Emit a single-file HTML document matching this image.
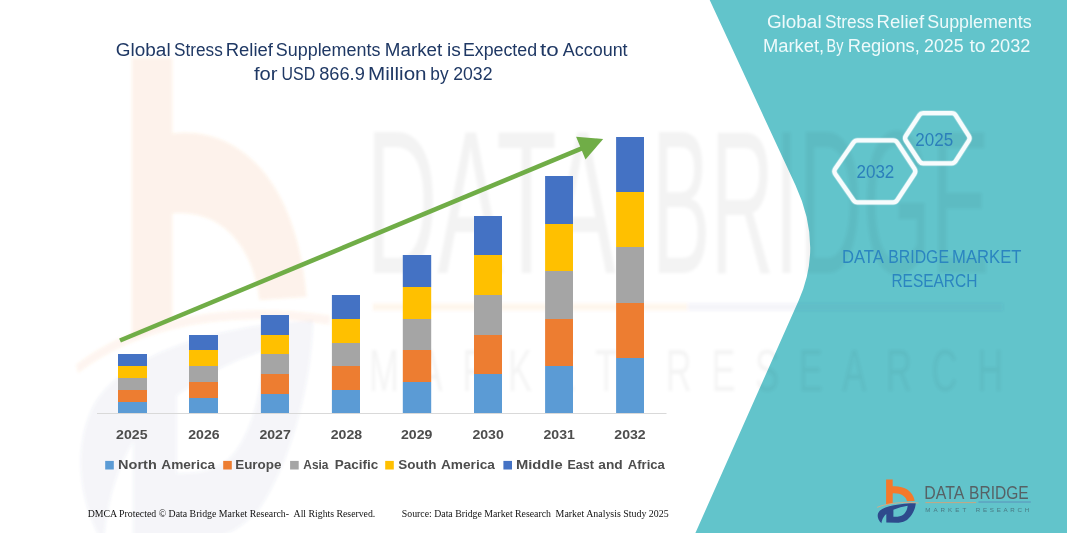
<!DOCTYPE html>
<html lang="en">
<head>
<meta charset="utf-8">
<title>Global Stress Relief Supplements Market</title>
<style>
  html, body { margin: 0; padding: 0; background: #ffffff; }
  body { width: 1067px; height: 533px; overflow: hidden; }
  svg { display: block; }
  .sans { font-family: "Liberation Sans", sans-serif; }
  .serif { font-family: "Liberation Serif", serif; }
</style>
</head>
<body>
<svg width="1067" height="533" viewBox="0 0 1067 533">
  <rect x="0" y="0" width="1067" height="533" fill="#ffffff"/>

  <!-- faint watermark (left, on white) -->
  <filter id="soft" x="-10%" y="-10%" width="120%" height="120%"><feGaussianBlur stdDeviation="1.6"/></filter>
  <g filter="url(#soft)"><g id="wm-left" transform="translate(132,58) scale(6.1,11.1) translate(-886.1,-479.4)">
    <path d="M886.1 479.4 L892.7 479.4 L892.7 486.2 C903 485.5 913 490 914.7 500.9 L907 501.2 C906 496.5 901 493 892.7 493.4 L892.7 503 L886.1 504.7 Z" fill="#ed7d31" fill-opacity="0.10"/>
    <path d="M915.8 503 C915.5 509 912 516 907 520 C903 522.5 899 522.8 897 522.8 L886.3 522.5 L886.3 514 C884 516 882 519 881.4 523.2 C877 519 876.5 514 880 510.5 C885 506 900 503.5 915.8 503 Z M893.4 509.8 C898 508 903 506.5 907.6 505.8 C907.5 510 905 514 902 515.5 C899 516.8 896 516.8 893.4 516.8 Z" fill="#2f5597" fill-opacity="0.055" fill-rule="evenodd"/>
    <path d="M877.1 507.4 C884 504.5 897 501.3 918.5 503" fill="none" stroke="#ed7d31" stroke-opacity="0.08" stroke-width="0.8"/>
  </g></g>

  <!-- teal panel -->
  <path id="panel" d="M709.7 0 L795.4 185 Q823.2 245.1 798.9 300 L695.4 533 L1067 533 L1067 0 Z" fill="#62c4cb"/>

  <!-- faint watermark wordmark -->
  <mask id="wmm" maskUnits="userSpaceOnUse" x="0" y="0" width="1067" height="533">
    <rect x="0" y="0" width="1067" height="533" fill="#ffffff"/>
    <path d="M709.7 0 L795.4 185 Q823.2 245.1 798.9 300 L695.4 533 L1067 533 L1067 0 Z" fill="#e2e2e2"/>
  </mask>
  <g mask="url(#wmm)"><g id="wm-text" class="sans" fill="#04222a" filter="url(#soft)">
    <text y="272.5" font-size="205" fill-opacity="0.047"><tspan x="365.9" textLength="244.2" lengthAdjust="spacingAndGlyphs">DATA</tspan> <tspan x="651.7" textLength="338.1" lengthAdjust="spacingAndGlyphs">BRIDGE</tspan></text>
    <text transform="translate(369,391) scale(0.6,1)" font-size="60" textLength="1057" lengthAdjust="spacing" fill-opacity="0.043">MARKET RESEARCH</text>
    <rect x="372.8" y="303.5" width="315" height="7" fill="#ed7d31" fill-opacity="0.07"/>
    <rect x="687.8" y="303.5" width="315" height="7" fill="#2f5597" fill-opacity="0.055"/>
  </g></g>

  <!-- chart title -->
  <g class="sans" fill="#1f3864" font-size="18">
    <text y="55.8"><tspan x="115.8" textLength="54.8" lengthAdjust="spacingAndGlyphs">Global</tspan> <tspan x="174.1" textLength="48.7" lengthAdjust="spacingAndGlyphs">Stress</tspan> <tspan x="225.7" textLength="47.2" lengthAdjust="spacingAndGlyphs">Relief</tspan> <tspan x="275.8" textLength="104.6" lengthAdjust="spacingAndGlyphs">Supplements</tspan> <tspan x="384.8" textLength="57.4" lengthAdjust="spacingAndGlyphs">Market</tspan> <tspan x="447.1" textLength="13.8" lengthAdjust="spacingAndGlyphs">is</tspan> <tspan x="462.9" textLength="74.2" lengthAdjust="spacingAndGlyphs">Expected</tspan> <tspan x="540.0" textLength="18.7" lengthAdjust="spacingAndGlyphs">to</tspan> <tspan x="562.8" textLength="64.8" lengthAdjust="spacingAndGlyphs">Account</tspan></text>
    <text y="79.9"><tspan x="254.0" textLength="23.5" lengthAdjust="spacingAndGlyphs">for</tspan> <tspan x="281.6" textLength="33.6" lengthAdjust="spacingAndGlyphs">USD</tspan> <tspan x="319.2" textLength="45.6" lengthAdjust="spacingAndGlyphs">866.9</tspan> <tspan x="368.1" textLength="58.5" lengthAdjust="spacingAndGlyphs">Million</tspan> <tspan x="430.3" textLength="18.3" lengthAdjust="spacingAndGlyphs">by</tspan> <tspan x="453.2" textLength="39.3" lengthAdjust="spacingAndGlyphs">2032</tspan></text>
  </g>

  <!-- axis -->
  <line x1="97" y1="413.5" x2="666.5" y2="413.5" stroke="#d9d9d9" stroke-width="1"/>

  <!-- bars -->
  <g id="bars">
    <!-- 2025 -->
    <rect x="118" y="402" width="29" height="11" fill="#5b9bd5"/>
    <rect x="118" y="390" width="29" height="12" fill="#ed7d31"/>
    <rect x="118" y="378" width="29" height="12" fill="#a5a5a5"/>
    <rect x="118" y="366" width="29" height="12" fill="#ffc000"/>
    <rect x="118" y="354" width="29" height="12" fill="#4472c4"/>
    <!-- 2026 -->
    <rect x="189" y="398" width="29" height="15" fill="#5b9bd5"/>
    <rect x="189" y="382" width="29" height="16" fill="#ed7d31"/>
    <rect x="189" y="366" width="29" height="16" fill="#a5a5a5"/>
    <rect x="189" y="350" width="29" height="16" fill="#ffc000"/>
    <rect x="189" y="335" width="29" height="15" fill="#4472c4"/>
    <!-- 2027 -->
    <rect x="260.9" y="394" width="28.1" height="19" fill="#5b9bd5"/>
    <rect x="260.9" y="374" width="28.1" height="20" fill="#ed7d31"/>
    <rect x="260.9" y="354" width="28.1" height="20" fill="#a5a5a5"/>
    <rect x="260.9" y="335" width="28.1" height="19" fill="#ffc000"/>
    <rect x="260.9" y="315" width="28.1" height="20" fill="#4472c4"/>
    <!-- 2028 -->
    <rect x="331.9" y="390" width="28.1" height="23" fill="#5b9bd5"/>
    <rect x="331.9" y="366" width="28.1" height="24" fill="#ed7d31"/>
    <rect x="331.9" y="343" width="28.1" height="23" fill="#a5a5a5"/>
    <rect x="331.9" y="319" width="28.1" height="24" fill="#ffc000"/>
    <rect x="331.9" y="295" width="28.1" height="24" fill="#4472c4"/>
    <!-- 2029 -->
    <rect x="402.8" y="382" width="28.4" height="31" fill="#5b9bd5"/>
    <rect x="402.8" y="350" width="28.4" height="32" fill="#ed7d31"/>
    <rect x="402.8" y="319" width="28.4" height="31" fill="#a5a5a5"/>
    <rect x="402.8" y="287" width="28.4" height="32" fill="#ffc000"/>
    <rect x="402.8" y="255" width="28.4" height="32" fill="#4472c4"/>
    <!-- 2030 -->
    <rect x="474" y="374" width="28" height="39" fill="#5b9bd5"/>
    <rect x="474" y="335" width="28" height="39" fill="#ed7d31"/>
    <rect x="474" y="295" width="28" height="40" fill="#a5a5a5"/>
    <rect x="474" y="255" width="28" height="40" fill="#ffc000"/>
    <rect x="474" y="216" width="28" height="39" fill="#4472c4"/>
    <!-- 2031 -->
    <rect x="545.1" y="366" width="27.9" height="47" fill="#5b9bd5"/>
    <rect x="545.1" y="319" width="27.9" height="47" fill="#ed7d31"/>
    <rect x="545.1" y="271" width="27.9" height="48" fill="#a5a5a5"/>
    <rect x="545.1" y="224" width="27.9" height="47" fill="#ffc000"/>
    <rect x="545.1" y="176" width="27.9" height="48" fill="#4472c4"/>
    <!-- 2032 -->
    <rect x="616.1" y="358" width="27.9" height="55" fill="#5b9bd5"/>
    <rect x="616.1" y="303" width="27.9" height="55" fill="#ed7d31"/>
    <rect x="616.1" y="247" width="27.9" height="56" fill="#a5a5a5"/>
    <rect x="616.1" y="192" width="27.9" height="55" fill="#ffc000"/>
    <rect x="616.1" y="137" width="27.9" height="55" fill="#4472c4"/>
  </g>

  <!-- green arrow -->
  <g id="arrow">
    <line x1="120" y1="340.5" x2="583" y2="147.9" stroke="#70ad47" stroke-width="4.6"/>
    <polygon points="603.2,138.9 576.1,136.8 585.5,159.6" fill="#70ad47"/>
  </g>

  <!-- year labels -->
  <g class="sans" font-weight="700" font-size="13.6" fill="#4d4d4d" text-anchor="middle">
    <text x="131.8" y="438.6" textLength="31.4" lengthAdjust="spacingAndGlyphs">2025</text>
    <text x="203.9" y="438.6" textLength="31.4" lengthAdjust="spacingAndGlyphs">2026</text>
    <text x="275.1" y="438.6" textLength="31.4" lengthAdjust="spacingAndGlyphs">2027</text>
    <text x="346.4" y="438.6" textLength="31.4" lengthAdjust="spacingAndGlyphs">2028</text>
    <text x="416.7" y="438.6" textLength="31.4" lengthAdjust="spacingAndGlyphs">2029</text>
    <text x="488.1" y="438.6" textLength="31.4" lengthAdjust="spacingAndGlyphs">2030</text>
    <text x="559.2" y="438.6" textLength="31.4" lengthAdjust="spacingAndGlyphs">2031</text>
    <text x="630" y="438.6" textLength="31.4" lengthAdjust="spacingAndGlyphs">2032</text>
  </g>

  <!-- legend -->
  <g id="legend">
    <rect x="105.2" y="460.9" width="8.6" height="8.6" fill="#5b9bd5"/>
    <rect x="223.2" y="460.9" width="8.6" height="8.6" fill="#ed7d31"/>
    <rect x="290.1" y="460.9" width="8.6" height="8.6" fill="#a5a5a5"/>
    <rect x="385.2" y="460.9" width="8.6" height="8.6" fill="#ffc000"/>
    <rect x="503.4" y="460.9" width="8.6" height="8.6" fill="#4472c4"/>
    <g class="sans" font-weight="700" font-size="13.6" fill="#4d4d4d">
      <text y="468.8"><tspan x="118.1" textLength="38.7" lengthAdjust="spacingAndGlyphs">North</tspan> <tspan x="161.3" textLength="53.8" lengthAdjust="spacingAndGlyphs">America</tspan></text>
      <text y="468.8"><tspan x="235.2" textLength="46.3" lengthAdjust="spacingAndGlyphs">Europe</tspan></text>
      <text y="468.8"><tspan x="303.3" textLength="25.1" lengthAdjust="spacingAndGlyphs">Asia</tspan> <tspan x="334.7" textLength="43.5" lengthAdjust="spacingAndGlyphs">Pacific</tspan></text>
      <text y="468.8"><tspan x="398.2" textLength="38.2" lengthAdjust="spacingAndGlyphs">South</tspan> <tspan x="441.0" textLength="53.9" lengthAdjust="spacingAndGlyphs">America</tspan></text>
      <text y="468.8"><tspan x="516.0" textLength="46.6" lengthAdjust="spacingAndGlyphs">Middle</tspan> <tspan x="567.5" textLength="26.3" lengthAdjust="spacingAndGlyphs">East</tspan> <tspan x="598.3" textLength="24.4" lengthAdjust="spacingAndGlyphs">and</tspan> <tspan x="627.8" textLength="37.1" lengthAdjust="spacingAndGlyphs">Africa</tspan></text>
    </g>
  </g>

  <!-- footnotes -->
  <g class="serif" font-size="10" fill="#111111">
    <text y="517.4"><tspan x="87.7" textLength="201.3" lengthAdjust="spacingAndGlyphs">DMCA Protected © Data Bridge Market Research-</tspan> <tspan x="293.6" textLength="81.7" lengthAdjust="spacingAndGlyphs">All Rights Reserved.</tspan></text>
    <text y="517.4"><tspan x="401.8" textLength="149.2" lengthAdjust="spacingAndGlyphs">Source: Data Bridge Market Research</tspan> <tspan x="555.6" textLength="113.1" lengthAdjust="spacingAndGlyphs">Market Analysis Study 2025</tspan></text>
  </g>

  <!-- right panel title -->
  <g class="sans" fill="#eefafb" font-size="18">
    <text y="27.9"><tspan x="766.9" textLength="54.7" lengthAdjust="spacingAndGlyphs">Global</tspan> <tspan x="825.0" textLength="48.9" lengthAdjust="spacingAndGlyphs">Stress</tspan> <tspan x="876.5" textLength="47.6" lengthAdjust="spacingAndGlyphs">Relief</tspan> <tspan x="927.3" textLength="104.3" lengthAdjust="spacingAndGlyphs">Supplements</tspan></text>
    <text y="51.8"><tspan x="763.0" textLength="61.1" lengthAdjust="spacingAndGlyphs">Market,</tspan> <tspan x="826.6" textLength="16.8" lengthAdjust="spacingAndGlyphs">By</tspan> <tspan x="847.8" textLength="72.0" lengthAdjust="spacingAndGlyphs">Regions,</tspan> <tspan x="924.0" textLength="39.6" lengthAdjust="spacingAndGlyphs">2025</tspan> <tspan x="969.4" textLength="16.1" lengthAdjust="spacingAndGlyphs">to</tspan> <tspan x="990.0" textLength="40.4" lengthAdjust="spacingAndGlyphs">2032</tspan></text>
  </g>

  <!-- hexagons -->
  <g fill="none" stroke="#ffffff" stroke-opacity="0.3" stroke-width="5.8" stroke-linejoin="round">
    <path d="M835.4 174.2 A5 5 0 0 1 835.4 168.4 L853.5 142.4 A5 5 0 0 1 857.6 140.3 L893.1 140.3 A5 5 0 0 1 897.3 142.6 L914.4 168.6 A5 5 0 0 1 914.4 174.0 L897.3 200.0 A5 5 0 0 1 893.1 202.3 L857.6 202.3 A5 5 0 0 1 853.5 200.2 Z"/>
    <path d="M905.9 140.7 A4.5 4.5 0 0 1 905.9 135.7 L919.4 115.1 A4.5 4.5 0 0 1 923.1 113.1 L951.8 113.1 A4.5 4.5 0 0 1 955.6 115.2 L968.8 135.8 A4.5 4.5 0 0 1 968.8 140.6 L955.6 161.2 A4.5 4.5 0 0 1 951.8 163.3 L923.1 163.3 A4.5 4.5 0 0 1 919.4 161.3 Z"/>
  </g>
  <g fill="none" stroke="#f7fcfd" stroke-width="4.3" stroke-linejoin="round">
    <path d="M835.4 174.2 A5 5 0 0 1 835.4 168.4 L853.5 142.4 A5 5 0 0 1 857.6 140.3 L893.1 140.3 A5 5 0 0 1 897.3 142.6 L914.4 168.6 A5 5 0 0 1 914.4 174.0 L897.3 200.0 A5 5 0 0 1 893.1 202.3 L857.6 202.3 A5 5 0 0 1 853.5 200.2 Z"/>
    <path d="M905.9 140.7 A4.5 4.5 0 0 1 905.9 135.7 L919.4 115.1 A4.5 4.5 0 0 1 923.1 113.1 L951.8 113.1 A4.5 4.5 0 0 1 955.6 115.2 L968.8 135.8 A4.5 4.5 0 0 1 968.8 140.6 L955.6 161.2 A4.5 4.5 0 0 1 951.8 163.3 L923.1 163.3 A4.5 4.5 0 0 1 919.4 161.3 Z"/>
  </g>
  <g class="sans" fill="#2b7fbb" font-size="17.8" text-anchor="middle">
    <text x="875.4" y="177.9" textLength="37.9" lengthAdjust="spacingAndGlyphs">2032</text>
    <text x="934.2" y="145.8" textLength="37.9" lengthAdjust="spacingAndGlyphs">2025</text>
  </g>

  <!-- DATA BRIDGE MARKET RESEARCH -->
  <g class="sans" fill="#2b85c0" font-size="17.5">
    <text y="262.6"><tspan x="841.9" textLength="41.0" lengthAdjust="spacingAndGlyphs">DATA</tspan> <tspan x="888.3" textLength="60.7" lengthAdjust="spacingAndGlyphs">BRIDGE</tspan> <tspan x="952.1" textLength="69.3" lengthAdjust="spacingAndGlyphs">MARKET</tspan></text>
    <text y="286.6"><tspan x="891.4" textLength="86.0" lengthAdjust="spacingAndGlyphs">RESEARCH</tspan></text>
  </g>

  <!-- logo -->
  <g id="logo">
    <path d="M886.1 479.4 L892.7 479.4 L892.7 486.2 C903 485.5 913 490 914.7 500.9 L907 501.2 C906 496.5 901 493 892.7 493.4 L892.7 503 L886.1 504.7 Z" fill="#f4792b"/>
    <path d="M915.8 503 C915.5 509 912 516 907 520 C903 522.5 899 522.8 897 522.8 L886.3 522.5 L886.3 514 C884 516 882 519 881.4 523.2 C877 519 876.5 514 880 510.5 C885 506 900 503.5 915.8 503 Z M893.4 509.8 C898 508 903 506.5 907.6 505.8 C907.5 510 905 514 902 515.5 C899 516.8 896 516.8 893.4 516.8 Z" fill="#2e4a8c" fill-rule="evenodd"/>
    <path d="M877.1 507.4 C884 504.5 897 501.3 918.5 503" fill="none" stroke="#e9a77a" stroke-width="0.8"/>
    <g class="sans">
      <text y="499.4" font-size="18.8" fill="#55565a" fill-opacity="0.9"><tspan x="924.3" textLength="39.1" lengthAdjust="spacingAndGlyphs">DATA</tspan> <tspan x="969.1" textLength="59.6" lengthAdjust="spacingAndGlyphs">BRIDGE</tspan></text>
      <text y="511.5" font-size="6.2" fill="#3f5c66" fill-opacity="0.72"><tspan x="925.2" textLength="40.9" lengthAdjust="spacing">MARKET</tspan> <tspan x="975.8" textLength="53.3" lengthAdjust="spacing">RESEARCH</tspan></text>
    </g>
    <line x1="925.4" y1="502.6" x2="976.2" y2="502.6" stroke="#d2a47a" stroke-width="0.9"/>
    <line x1="978.5" y1="502" x2="1030.8" y2="502" stroke="#5a8cba" stroke-width="0.9"/>
  </g>
</svg>
</body>
</html>
